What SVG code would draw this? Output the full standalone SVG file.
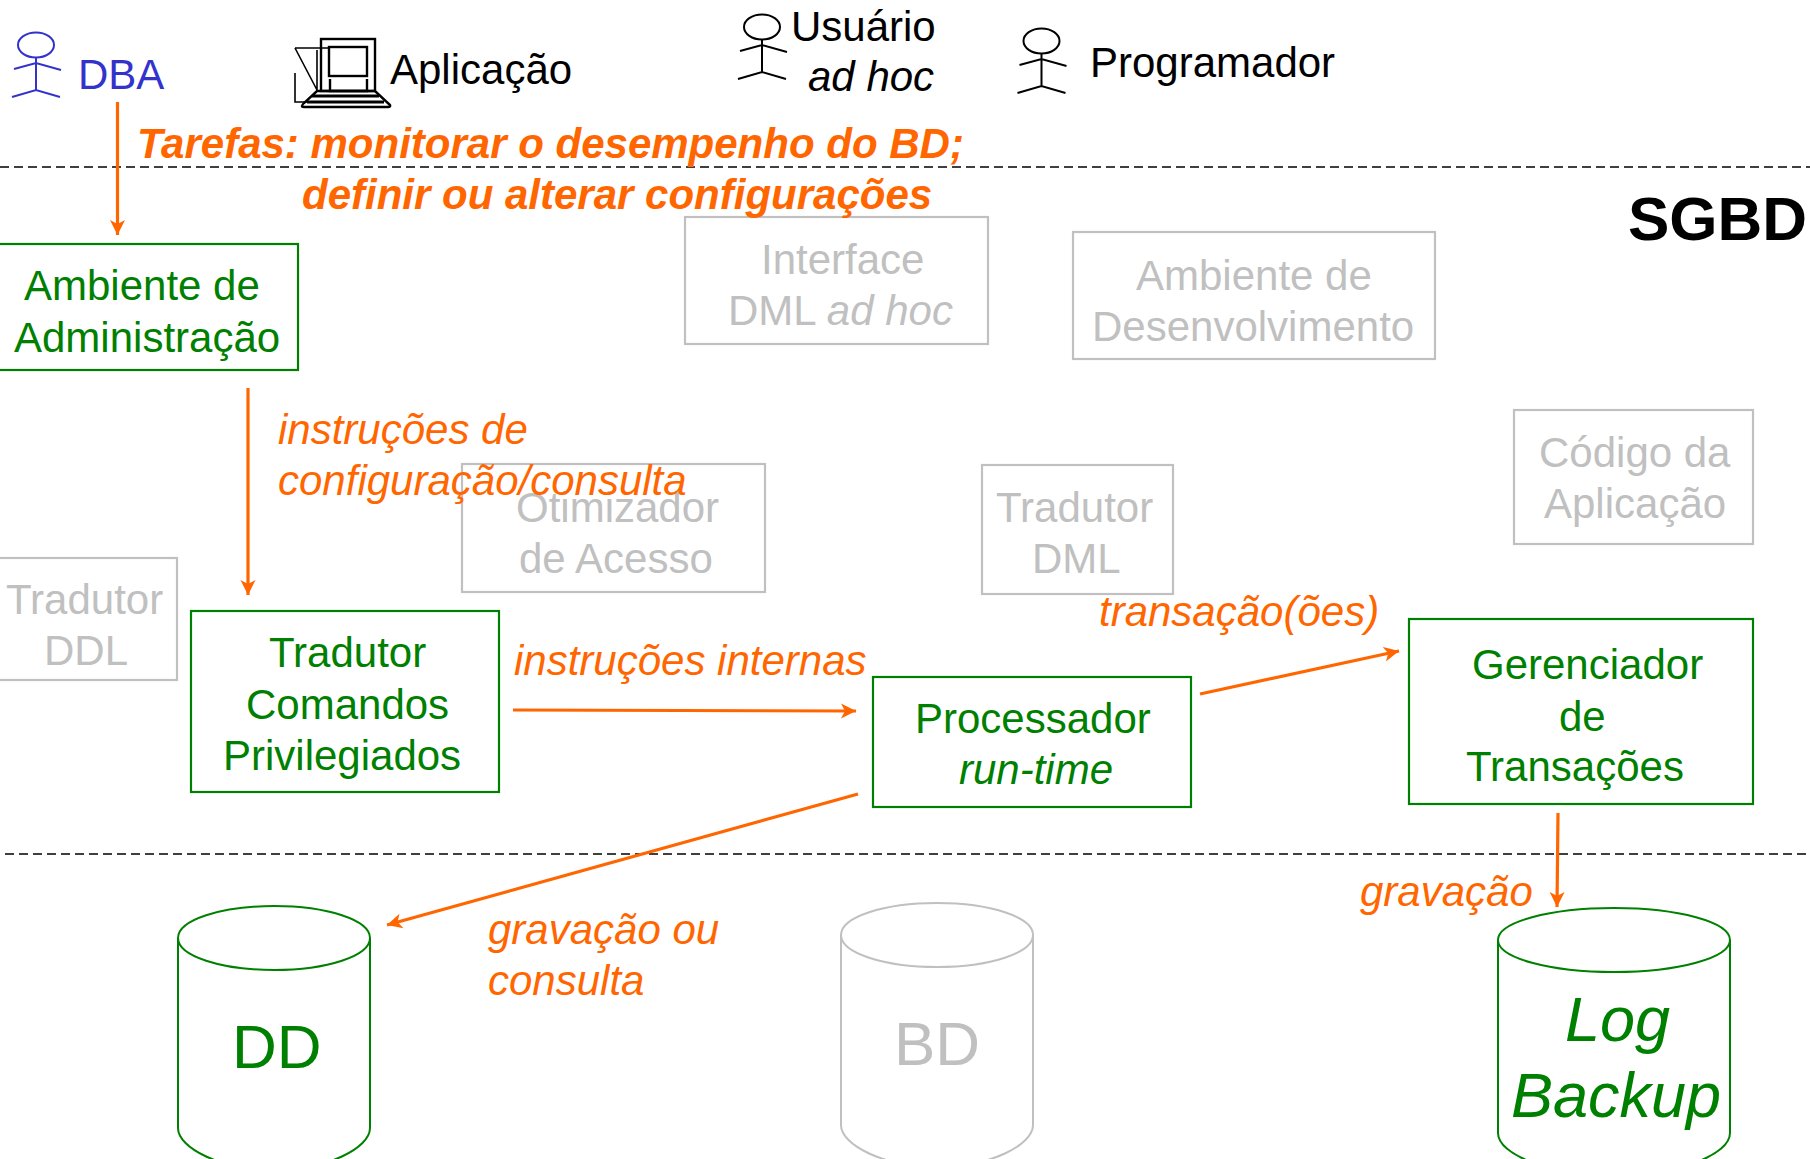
<svg xmlns="http://www.w3.org/2000/svg" width="1810" height="1159" viewBox="0 0 1810 1159">
<style>
text{font-family:"Liberation Sans",Arial,Helvetica,sans-serif;font-size:42px}
.g{fill:#008000}.y{fill:#c0c0c0}.o{fill:#ff6600;font-style:italic}.k{fill:#000}.b{fill:#3333cc}
.i{font-style:italic}
.tb{font-weight:bold;font-style:italic;fill:#ff6600}
.bg{fill:none;stroke:#008000;stroke-width:2.2}
.by{fill:none;stroke:#c0c0c0;stroke-width:2.2}
.cg{fill:none;stroke:#008000;stroke-width:2}
.cy{fill:none;stroke:#c0c0c0;stroke-width:2}
.dash{stroke:#000;stroke-width:1.6;stroke-dasharray:9 5;fill:none}
.arr{stroke:#ff6600;stroke-width:3.2;fill:none;marker-end:url(#ah)}
.act{fill:none;stroke:currentColor;stroke-width:2}
</style>
<defs>
<marker id="ah" viewBox="0 0 16 16" refX="15" refY="8" markerWidth="16" markerHeight="16" markerUnits="userSpaceOnUse" orient="auto"><path d="M0 0.5L15 8L0 15.5L4 8Z" fill="#ff6600"/></marker>
<g id="actor" class="act"><ellipse cx="0" cy="0" rx="18" ry="12.5"/><path d="M0 12.5V45M-22 24L0 18L25 25M-24 52L0 45L24 52"/></g>
<g id="cyl"><path d="M0 0C0 -18 52 -32 116 -32C180 -32 232 -18 232 0C232 18 180 32 116 32C52 32 0 18 0 0V193C0 215 52 235 116 235C180 235 232 215 232 193V0"/></g>
<path id="c2" d="M0 0C0 -18 43 -32 96 -32C149 -32 192 -18 192 0C192 18 149 32 96 32C43 32 0 18 0 0V190C0 210 43 232 96 232C149 232 192 210 192 190V0"/>
</defs>
<g id="separators"><path class="dash" d="M0 167H1810"/><path class="dash" d="M5 854H1810"/></g>
<g id="actor-dba" color="#3333cc"><use href="#actor" x="36" y="45"/><text class="b" x="78" y="89">DBA</text></g>
<g id="app">
<g fill="none" stroke="#000"><rect x="321" y="39" width="54" height="52" stroke-width="2.4" fill="#fff"/><rect x="329" y="47" width="38" height="29" stroke-width="2.4"/><path stroke-width="1.6" d="M295 48H329M295 48L317 90M295 73V102H315M317 50V90"/><path stroke-width="2.4" d="M330 79V91H367V79"/>
<path stroke-width="2.4" d="M317 91H375L390 105Q391 107 388 107H304Q300 107 304 103Z"/><path stroke-width="3" d="M312 96H379M307 102H384"/></g>
<text class="k" x="390" y="84">Aplicação</text></g>
<g id="actor-usuario" color="#000"><use href="#actor" x="762" y="27"/><text class="k" x="791" y="41">Usuário</text><text class="k i" x="808" y="91">ad hoc</text></g>
<g id="actor-programador" color="#000"><use href="#actor" x="1041.5" y="41"/><text class="k" x="1090" y="77">Programador</text></g>
<g id="sgbd"><text x="1628" y="240" font-weight="bold" style="font-size:62px;font-weight:bold">SGBD</text></g>
<g id="amb-adm"><rect class="bg" x="-2" y="244" width="300" height="126"/><text class="g" x="24" y="300">Ambiente de</text><text class="g" x="14" y="352">Administração</text></g>
<g id="interface"><rect class="by" x="685" y="217" width="303" height="127"/><text class="y" x="761" y="274">Interface</text><text class="y" x="728" y="325">DML <tspan class="i">ad hoc</tspan></text></g>
<g id="amb-dev"><rect class="by" x="1073" y="232" width="362" height="127"/><text class="y" x="1136" y="290">Ambiente de</text><text class="y" x="1092" y="341">Desenvolvimento</text></g>
<g id="codigo"><rect class="by" x="1514" y="410" width="239" height="134"/><text class="y" x="1539" y="467">Código da</text><text class="y" x="1544" y="518">Aplicação</text></g>
<g id="otimizador"><rect class="by" x="462" y="464" width="303" height="128"/><text class="y" x="516" y="522">Otimizador</text><text class="y" x="519" y="573">de Acesso</text></g>
<g id="trad-dml"><rect class="by" x="982" y="465" width="191" height="129"/><text class="y" x="996" y="522">Tradutor</text><text class="y" x="1032" y="573">DML</text></g>
<g id="trad-ddl"><rect class="by" x="-2" y="558" width="179" height="122"/><text class="y" x="6" y="614">Tradutor</text><text class="y" x="44" y="665">DDL</text></g>
<g id="trad-cmd"><rect class="bg" x="191" y="611" width="308" height="181"/><text class="g" x="269" y="667">Tradutor</text><text class="g" x="246" y="719">Comandos</text><text class="g" x="223" y="770">Privilegiados</text></g>
<g id="proc"><rect class="bg" x="873" y="677" width="318" height="130"/><text class="g" x="915" y="733">Processador</text><text class="g i" x="959" y="784">run-time</text></g>
<g id="ger"><rect class="bg" x="1409" y="619" width="344" height="185"/><text class="g" x="1472" y="679">Gerenciador</text><text class="g" x="1559" y="731">de</text><text class="g" x="1466" y="781">Transações</text></g>
<g id="dd"><use href="#c2" x="178" y="938" class="cg"/><text class="g" x="232" y="1068" style="font-size:62px">DD</text></g>
<g id="bd"><use href="#c2" x="841" y="935" class="cy"/><text class="y" x="894" y="1065" style="font-size:62px">BD</text></g>
<g id="log"><use href="#cyl" x="1498" y="940" class="cg"/><text class="g i" x="1565" y="1041" style="font-size:63px">Log</text><text class="g i" x="1511" y="1117" style="font-size:63px">Backup</text></g>
<g id="connectors">
<path class="arr" d="M117.5 102V235"/>
<path class="arr" d="M248 388V595"/>
<path class="arr" d="M513 710L856 711"/>
<path class="arr" d="M1200 694L1399 651"/>
<path class="arr" d="M858 794L387 925"/>
<path class="arr" d="M1558 813L1557 907"/>
</g>
<g id="labels">
<text class="tb" x="137" y="158">Tarefas: monitorar o desempenho do BD;</text>
<text class="tb" x="302" y="209">definir ou alterar configurações</text>
<text class="o" x="278" y="444">instruções de</text>
<text class="o" x="278" y="495">configuração/consulta</text>
<text class="o" x="514" y="675">instruções internas</text>
<text class="o" x="1099" y="626">transação(ões)</text>
<text class="o" x="488" y="944">gravação ou</text>
<text class="o" x="488" y="995">consulta</text>
<text class="o" x="1360" y="906">gravação</text>
</g>
</svg>
